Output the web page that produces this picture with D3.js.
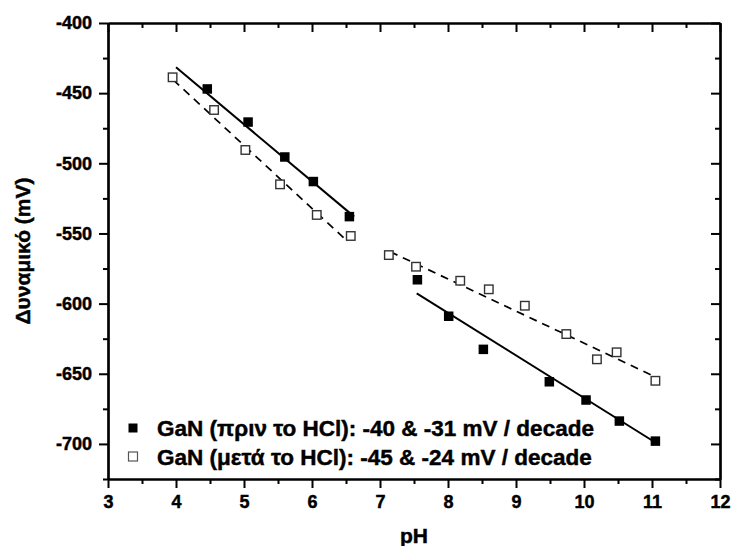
<!DOCTYPE html>
<html>
<head>
<meta charset="utf-8">
<script src="https://cdn.jsdelivr.net/npm/d3@7"></script>
<style>
  body { margin: 0; background: #fff; }
  svg text {
    font-family: "Liberation Sans", Arial, sans-serif;
    font-weight: 700;
    fill: #000;
    stroke: #000;
    stroke-width: 0.45px;
  }
</style>
</head>
<body>
<div id="chart"></div>
<script>
const beforePH = [4.46, 5.06, 5.6, 6.02, 6.55, 7.55, 8.01, 8.52, 9.49, 10.03, 10.52, 11.05];
const beforeMV = [-447, -470.6, -495.5, -513, -538, -583, -609, -632.6, -655.7, -668.7, -683.7, -698];
const afterPH = [3.95, 4.56, 5.02, 5.53, 6.07, 6.57, 7.13, 7.53, 8.18, 8.6, 9.13, 9.74, 10.19, 10.48, 11.05];
const afterMV = [-438.7, -462, -490.5, -515, -536.8, -551.8, -565.4, -573.7, -583.7, -589.8, -601.5, -621.7, -639.7, -634.7, -655];

// fitted line end points (x1, y1, x2, y2)
const beforeFits = [[4.0, -431.6, 6.62, -538], [7.54, -592.7, 11.05, -699]];
const afterFits = [[3.96, -440.6, 6.53, -555.9], [7.15, -563, 11.04, -652]];

const legendLabels = [
  "GaN (πριν το HCl): -40 & -31 mV / decade",
  "GaN (μετά το HCl): -45 & -24 mV / decade"
];
const xTicks = [3, 4, 5, 6, 7, 8, 9, 10, 11, 12];
const yTicks = [-400, -450, -500, -550, -600, -650, -700];

const width = 731,
  height = 546,
  margin = { top: 23, right: 11, bottom: 67, left: 108 };

const svg = d3
  .select("#chart")
  .append("svg")
  .attr("width", width)
  .attr("height", height);

const x = d3.scaleLinear().domain([3, 12]).range([margin.left, width - margin.right]);
const y = d3.scaleLinear().domain([-725, -400]).range([height - margin.bottom, margin.top]);

const xMinor = d3.range(3.5, 12, 1);
const yMinor = d3.range(-725, -400, 50);
const fmt = (d) => String(d); // plain hyphen, like the original

function styleAxis(g) {
  g.attr("font-family", null).attr("font-size", null);
  g.select(".domain").attr("stroke-width", 2.2).attr("stroke", "#000");
  g.selectAll(".tick line").attr("stroke-width", 2).attr("stroke", "#000");
  g.selectAll(".tick text").style("font-size", "18px");
}

function addAxis(axis, tx, ty, ticks, size, labels) {
  svg.append("g")
    .attr("transform", `translate(${tx},${ty})`)
    .call(axis.tickValues(ticks).tickSize(size).tickSizeOuter(0)
      .tickPadding(labels ? 7 : 0)
      .tickFormat(labels ? fmt : ""))
    .call(styleAxis);
}

// bottom and top (top ticks point inward)
addAxis(d3.axisBottom(x), 0, y(-725), xTicks, 9, true);
addAxis(d3.axisBottom(x), 0, y(-725), xMinor, 5, false);
addAxis(d3.axisBottom(x), 0, y(-400), xTicks, 9, false);
addAxis(d3.axisBottom(x), 0, y(-400), xMinor, 5, false);

// left and right (right ticks point inward)
addAxis(d3.axisLeft(y), x(3), 0, yTicks, 9, true);
addAxis(d3.axisLeft(y), x(3), 0, yMinor, 5, false);
addAxis(d3.axisLeft(y), x(12), 0, yTicks, 9, false);
addAxis(d3.axisLeft(y), x(12), 0, yMinor, 5, false);

// axis titles
svg.append("text")
  .text("pH")
  .attr("x", x(7.5))
  .attr("y", 543)
  .attr("text-anchor", "middle")
  .style("font-size", "21px");

svg.append("text")
  .text("Δυναμικό (mV)")
  .attr("transform", `translate(30,${(y(-400) + y(-725)) / 2}) rotate(-90)`)
  .attr("text-anchor", "middle")
  .style("font-size", "21px");

// fit lines
const plot = svg.append("g");
beforeFits.forEach((f) => {
  plot.append("line")
    .attr("x1", x(f[0])).attr("y1", y(f[1]))
    .attr("x2", x(f[2])).attr("y2", y(f[3]))
    .attr("stroke", "#000")
    .attr("stroke-width", 2);
});
afterFits.forEach((f) => {
  plot.append("line")
    .attr("x1", x(f[0])).attr("y1", y(f[1]))
    .attr("x2", x(f[2])).attr("y2", y(f[3]))
    .attr("stroke", "#000")
    .attr("stroke-width", 1.7)
    .attr("stroke-dasharray", "8,6");
});

// markers
const ms = 9.5;
plot.selectAll("rect.before")
  .data(beforePH.map((d, i) => [d, beforeMV[i]]))
  .join("rect")
  .attr("class", "before")
  .attr("x", (d) => x(d[0]) - ms / 2)
  .attr("y", (d) => y(d[1]) - ms / 2)
  .attr("width", ms)
  .attr("height", ms)
  .attr("fill", "#000");

plot.selectAll("rect.after")
  .data(afterPH.map((d, i) => [d, afterMV[i]]))
  .join("rect")
  .attr("class", "after")
  .attr("x", (d) => x(d[0]) - (ms - 1) / 2)
  .attr("y", (d) => y(d[1]) - (ms - 1) / 2)
  .attr("width", ms - 1)
  .attr("height", ms - 1)
  .attr("fill", "#fff")
  .attr("stroke", "#333")
  .attr("stroke-width", 1.4);

// legend
const legend = svg.append("g");
legendLabels.forEach((label, i) => {
  const ly = 428 + i * 28.5;
  legend.append("rect")
    .attr("x", 133 - 4.5)
    .attr("y", ly - 4.5)
    .attr("width", 9)
    .attr("height", 9)
    .attr("fill", i === 0 ? "#000" : "#fff")
    .attr("stroke", i === 0 ? "none" : "#555")
    .attr("stroke-width", 1.2);
  legend.append("text")
    .text(label)
    .attr("x", 157)
    .attr("y", ly + 8)
    .style("font-size", "22.5px");
});
</script>
</body>
</html>
